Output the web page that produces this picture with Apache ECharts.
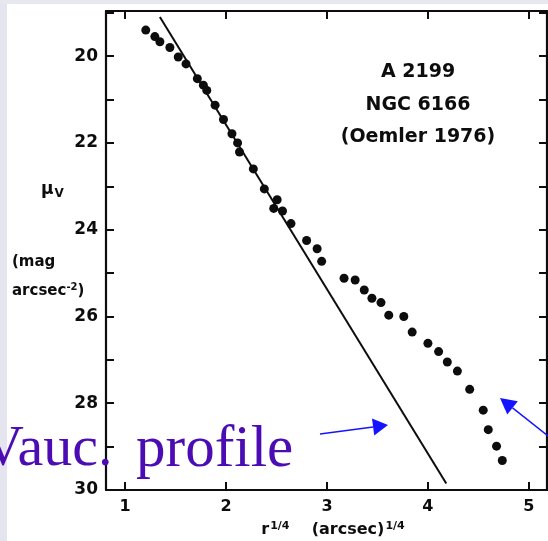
<!DOCTYPE html>
<html>
<head>
<meta charset="utf-8">
<script src="https://cdn.jsdelivr.net/npm/echarts@6/dist/echarts.min.js"></script>
<style>
html,body{margin:0;padding:0;background:#ffffff;}
#chart{width:548px;height:541px;}
</style>
</head>
<body>
<div id="chart"></div>
<script>
// r^(1/4) (arcsec)^(1/4) of measured points
const profileR = [1.204, 1.294, 1.344, 1.443, 1.526, 1.603, 1.715, 1.775, 1.809, 1.891,
  1.974, 2.058, 2.114, 2.133, 2.270, 2.379, 2.506, 2.472, 2.559, 2.643,
  2.798, 2.902, 2.947, 3.169, 3.279, 3.369, 3.445, 3.535, 3.612, 3.761,
  3.844, 4.000, 4.106, 4.192, 4.292, 4.414, 4.548, 4.598, 4.680, 4.737];
// surface brightness mu_V (mag arcsec^-2)
const profileMu = [19.40, 19.55, 19.67, 19.80, 20.02, 20.18, 20.52, 20.67, 20.79, 21.13,
  21.46, 21.79, 22.00, 22.21, 22.60, 23.06, 23.31, 23.51, 23.57, 23.86,
  24.25, 24.44, 24.73, 25.12, 25.16, 25.39, 25.58, 25.68, 25.97, 26.00,
  26.36, 26.62, 26.81, 27.05, 27.26, 27.68, 28.16, 28.61, 28.99, 29.32];
// de Vaucouleurs r^1/4 law fit line end points
const fitR = [1.344, 4.182];
const fitMu = [19.10, 29.85];
// ticks
const xTicks = [1, 2, 3, 4, 5];
const yTicks = [19, 20, 21, 22, 23, 24, 25, 26, 27, 28, 29, 30];
const yLabels = [20, 22, 24, 26, 28, 30];
const titleLines = ['A 2199', 'NGC 6166', '(Oemler 1976)'];

const font = 'DejaVu Sans';
const ink = '#0d0d0d';
const blue = '#1414ff';
const purple = '#4b0cb4';

const chart = echarts.init(document.getElementById('chart'), null, {renderer: 'canvas'});

const xBase = {
  min: 0.81, max: 5.18, type: 'value',
  splitLine: {show: false},
  axisLine: {show: true, onZero: false, lineStyle: {color: ink, width: 2.2}},
  axisTick: {show: true, inside: true, length: 8, customValues: xTicks, lineStyle: {color: ink, width: 2}}
};
const yBase = {
  min: 18.96, max: 30, type: 'value', inverse: true,
  splitLine: {show: false},
  axisLine: {show: true, onZero: false, lineStyle: {color: ink, width: 2.2}},
  axisTick: {show: true, inside: true, length: 8, customValues: yTicks, lineStyle: {color: ink, width: 2}}
};

function arrow(tail, tip, headLen, halfW) {
  const dx = tip[0] - tail[0], dy = tip[1] - tail[1];
  const L = Math.sqrt(dx * dx + dy * dy);
  const ux = dx / L, uy = dy / L;
  const bx = tip[0] - ux * headLen, by = tip[1] - uy * headLen;
  const px = -uy, py = ux;
  return [
    {type: 'line', shape: {x1: tail[0], y1: tail[1], x2: bx, y2: by}, style: {stroke: blue, lineWidth: 1.5}, z: 100},
    {type: 'polygon', shape: {points: [tip, [bx + px * halfW, by + py * halfW], [bx - px * halfW, by - py * halfW]]}, style: {fill: blue}, z: 100}
  ];
}

const option = {
  backgroundColor: '#ffffff',
  animation: false,
  textStyle: {fontFamily: font},
  grid: {left: 106, right: 1, top: 11, bottom: 51, containLabel: false},
  xAxis: [
    Object.assign({}, xBase, {
      position: 'bottom',
      axisLabel: {show: true, customValues: xTicks, margin: 9, color: ink, fontSize: 16, fontWeight: 'bold', fontFamily: font}
    }),
    Object.assign({}, xBase, {position: 'top', axisLabel: {show: false}})
  ],
  yAxis: [
    Object.assign({}, yBase, {
      position: 'left',
      axisLabel: {show: true, customValues: yLabels, margin: 8, color: ink, fontSize: 17, fontWeight: 'bold', fontFamily: font}
    }),
    Object.assign({}, yBase, {position: 'right', axisLabel: {show: false}})
  ],
  series: [
    {
      type: 'line',
      data: fitR.map((r, i) => [r, fitMu[i]]),
      showSymbol: false,
      symbol: 'none',
      lineStyle: {color: ink, width: 2},
      z: 2
    },
    {
      type: 'scatter',
      data: profileR.map((r, i) => [r, profileMu[i]]),
      symbol: 'circle',
      symbolSize: 9,
      itemStyle: {color: ink, opacity: 1},
      z: 3
    }
  ],
  graphic: [
    {type: 'rect', shape: {x: 0, y: 0, width: 7, height: 541}, style: {fill: '#e4e5ee'}, z: -10, silent: true},
    {type: 'rect', shape: {x: 0, y: 0, width: 548, height: 4}, style: {fill: '#e6e7ef'}, z: -10, silent: true},
    {type: 'text', x: 418, y: 72, style: {text: titleLines[0], font: 'bold 19px "DejaVu Sans"', fill: ink, textAlign: 'center', textVerticalAlign: 'middle'}},
    {type: 'text', x: 418, y: 105, style: {text: titleLines[1], font: 'bold 19px "DejaVu Sans"', fill: ink, textAlign: 'center', textVerticalAlign: 'middle'}},
    {type: 'text', x: 418, y: 137, style: {text: titleLines[2], font: 'bold 19px "DejaVu Sans"', fill: ink, textAlign: 'center', textVerticalAlign: 'middle'}},
    {type: 'text', x: 41, y: 190, style: {
      text: '{m|μ}{s|V}', textAlign: 'left', textVerticalAlign: 'middle',
      rich: {m: {font: 'bold 17px "DejaVu Sans"', fill: ink}, s: {font: 'bold 12px "DejaVu Sans"', fill: ink, padding: [8, 0, 0, 1]}}
    }},
    {type: 'text', x: 12, y: 262, style: {text: '(mag', font: 'bold 15px "DejaVu Sans"', fill: ink, textAlign: 'left', textVerticalAlign: 'middle'}},
    {type: 'text', x: 12, y: 291, style: {
      text: '{a|arcsec}{s|-2}{a|)}', textAlign: 'left', textVerticalAlign: 'middle',
      rich: {a: {font: 'bold 15px "DejaVu Sans"', fill: ink}, s: {font: 'bold 10px "DejaVu Sans"', fill: ink, padding: [0, 0, 8, 0]}}
    }},
    {type: 'text', x: 333, y: 530, style: {
      text: '{a|r}{s|1/4}{a|    (arcsec)}{s|1/4}', textAlign: 'center', textVerticalAlign: 'middle',
      rich: {a: {font: 'bold 16px "DejaVu Sans"', fill: ink}, s: {font: 'bold 11px "DejaVu Sans"', fill: ink, padding: [0, 0, 8, 1]}}
    }},
    {type: 'text', x: -18, y: 421, z: 90, style: {text: 'Vauc.', font: '58px "Liberation Serif"', fill: purple, textAlign: 'left', textVerticalAlign: 'top'}},
    {type: 'text', x: 136, y: 421, z: 90, style: {text: 'profile', font: '59px "Liberation Serif"', fill: purple, textAlign: 'left', textVerticalAlign: 'top'}}
  ].concat(arrow([320, 434], [388, 425], 15, 8.5)).concat(arrow([548, 436], [500, 398], 16, 8.5))
};
chart.setOption(option);
</script>
</body>
</html>
